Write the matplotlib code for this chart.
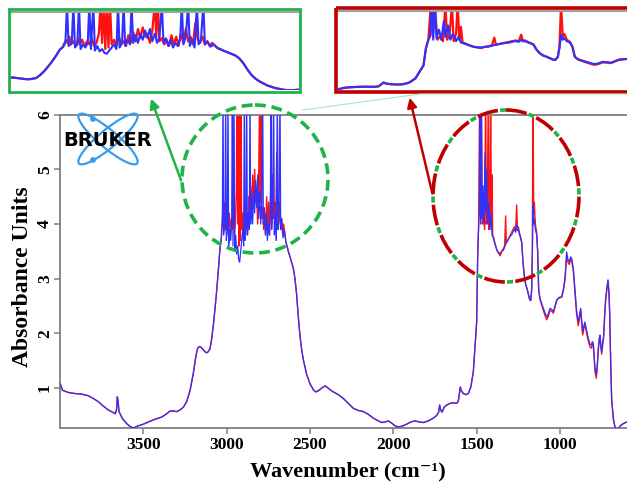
import matplotlib
matplotlib.use("Agg")
import matplotlib.pyplot as plt
from matplotlib.patches import Ellipse, Rectangle, Circle, FancyArrowPatch

# ---------------- data (wavenumber cm-1, absorbance) ----------------
wn_low = [4000, 3985, 3950, 3910, 3870, 3830, 3800, 3770, 3740, 3710, 3685, 3668, 3660,
          3656, 3652, 3646, 3625, 3600, 3580, 3560, 3530, 3500, 3470, 3430, 3390, 3360,
          3340, 3320, 3300, 3280, 3260, 3240, 3220, 3200, 3185, 3175, 3166, 3155, 3140,
          3125, 3115, 3100, 3090, 3080, 3070, 3060, 3050, 3040]
ab_low = [1.09, 0.96, 0.92, 0.90, 0.89, 0.86, 0.81, 0.75, 0.67, 0.60, 0.56, 0.53, 0.62,
          0.84, 0.78, 0.57, 0.44, 0.35, 0.30, 0.27, 0.31, 0.34, 0.38, 0.43, 0.47, 0.53,
          0.58, 0.58, 0.57, 0.60, 0.65, 0.75, 0.95, 1.27, 1.58, 1.72, 1.76, 1.75, 1.70,
          1.65, 1.65, 1.72, 1.90, 2.15, 2.45, 2.78, 3.15, 3.56]

wn_ch_red = [3032, 3030, 3024, 3020, 3016, 3012, 3006, 3000, 2994, 2990, 2984, 2978, 2972,
             2966, 2960, 2954, 2948, 2942, 2938, 2934, 2930, 2926, 2922, 2918, 2914, 2910,
             2904, 2898, 2892, 2886, 2880, 2874, 2868, 2862, 2856, 2850, 2844, 2838, 2832,
             2826, 2820, 2814, 2808, 2802, 2798, 2794, 2790, 2784, 2778, 2772, 2766, 2760,
             2754, 2748, 2742, 2736, 2730, 2724, 2718, 2712, 2706, 2700, 2694, 2688, 2682,
             2676, 2670, 2664, 2658, 2650, 2644, 2638, 2630]
ab_ch_red = [3.74, 3.90, 4.20, 4.00, 4.40, 3.90, 4.10, 3.80, 4.30, 3.90, 4.20, 3.80, 4.10,
             3.90, 4.30, 3.80, 4.00, 4.60, 6.50, 4.00, 6.50, 3.60, 6.50, 3.70, 6.50, 3.90,
             4.20, 3.80, 4.40, 3.90, 4.10, 3.80, 4.50, 4.00, 4.70, 4.10, 4.90, 4.30, 5.00,
             4.40, 4.60, 4.00, 4.80, 6.50, 4.40, 6.50, 4.10, 4.30, 3.90, 4.20, 3.80, 4.50,
             3.90, 4.40, 3.80, 4.60, 4.00, 4.90, 4.10, 4.40, 3.90, 5.30, 4.20, 4.00, 4.40,
             3.90, 4.10, 3.80, 4.00, 3.80, 3.65, 3.60, 3.50]

wn_ch_blue = [3032, 3026, 3022, 3018, 3010, 3006, 3002, 2996, 2992, 2988, 2982, 2976, 2970,
              2966, 2962, 2956, 2952, 2946, 2940, 2934, 2928, 2922, 2916, 2910, 2904, 2898,
              2894, 2890, 2884, 2880, 2876, 2870, 2864, 2860, 2856, 2850, 2844, 2838, 2832,
              2826, 2820, 2814, 2808, 2802, 2796, 2790, 2784, 2780, 2774, 2768, 2762, 2756,
              2750, 2744, 2738, 2734, 2730, 2724, 2718, 2714, 2708, 2702, 2696, 2692, 2686,
              2680, 2676, 2670, 2662, 2654, 2646, 2638, 2630]
ab_ch_blue = [3.74, 4.00, 6.50, 3.80, 4.00, 6.50, 3.70, 3.90, 6.50, 3.60, 3.90, 3.70, 4.00,
              6.50, 3.60, 6.50, 3.50, 3.80, 3.45, 3.60, 3.35, 3.30, 3.50, 3.70, 3.90, 3.60,
              6.50, 3.70, 4.00, 6.50, 3.80, 4.20, 3.90, 6.50, 4.00, 4.50, 4.00, 4.60, 4.20,
              4.80, 4.30, 4.90, 4.10, 4.60, 4.00, 4.40, 6.50, 4.00, 4.30, 3.80, 4.20, 3.70,
              4.00, 3.80, 4.30, 6.50, 3.90, 4.40, 6.50, 3.80, 4.20, 3.70, 6.50, 3.90, 4.20,
              6.50, 3.90, 4.10, 3.75, 3.90, 3.70, 3.60, 3.50]

wn_mid = [2620, 2600, 2590, 2580, 2570, 2560, 2550, 2540, 2520, 2500, 2480, 2465, 2450,
          2430, 2410, 2395, 2375, 2360, 2330, 2300, 2270, 2240, 2210, 2180, 2150, 2120,
          2090, 2070, 2050, 2030, 2010, 1990, 1970, 1950, 1920, 1895, 1870, 1845, 1820,
          1790, 1760, 1740, 1728, 1722, 1716, 1708, 1695, 1680, 1660, 1640, 1620, 1610,
          1598, 1592, 1580, 1565, 1550, 1535, 1520, 1510, 1500]
ab_mid = [3.40, 3.19, 3.00, 2.70, 2.30, 1.95, 1.70, 1.52, 1.25, 1.08, 0.97, 0.93, 0.95,
          1.00, 1.04, 1.01, 0.96, 0.93, 0.88, 0.81, 0.72, 0.63, 0.59, 0.57, 0.52, 0.45,
          0.40, 0.37, 0.38, 0.40, 0.36, 0.31, 0.29, 0.30, 0.34, 0.38, 0.40, 0.38, 0.37,
          0.40, 0.45, 0.50, 0.56, 0.69, 0.60, 0.56, 0.65, 0.69, 0.72, 0.73, 0.72, 0.76,
          1.02, 0.95, 0.90, 0.88, 0.90, 1.02, 1.30, 1.75, 2.21]

wn_fp_red = [1494, 1488, 1482, 1478, 1472, 1466, 1460, 1452, 1446, 1442, 1436, 1430, 1426,
             1420, 1416, 1412, 1408, 1404, 1398, 1390, 1382, 1374, 1366, 1358, 1350, 1340,
             1332, 1326, 1322, 1314, 1306, 1298, 1290, 1282, 1274, 1266, 1260, 1256, 1250,
             1244, 1236, 1230, 1222, 1214, 1206, 1198, 1190, 1182, 1176, 1170, 1166, 1162,
             1158, 1154, 1148, 1140, 1134, 1128]
ab_fp_red = [3.40, 4.00, 6.50, 4.30, 6.50, 4.00, 4.20, 3.90, 6.50, 4.00, 4.30, 6.50, 3.90,
             4.40, 6.50, 4.00, 4.90, 3.80, 3.75, 3.65, 3.55, 3.50, 3.45, 3.42, 3.50, 3.55,
             3.60, 4.15, 3.65, 3.70, 3.75, 3.80, 3.85, 3.90, 3.95, 3.90, 4.35, 3.95, 3.95,
             3.85, 3.75, 3.68, 3.30, 3.05, 2.90, 2.82, 2.72, 2.62, 2.60, 2.80, 3.50, 6.50,
             4.20, 4.40, 4.00, 3.85, 3.50, 2.80]

wn_fp_blue = [1494, 1488, 1484, 1480, 1476, 1472, 1468, 1462, 1456, 1450, 1446, 1440, 1434,
              1428, 1420, 1414, 1408, 1400, 1392, 1384, 1376, 1368, 1360, 1350, 1340, 1332,
              1324, 1314, 1306, 1298, 1290, 1282, 1274, 1266, 1260, 1256, 1250, 1244, 1236,
              1230, 1222, 1214, 1206, 1198, 1190, 1182, 1176, 1170, 1166, 1162, 1158, 1154,
              1148, 1140, 1134, 1128]
ab_fp_blue = [3.40, 4.00, 4.20, 6.50, 4.00, 6.50, 4.10, 4.70, 4.00, 5.30, 4.20, 5.00, 4.00,
              4.40, 3.90, 4.20, 3.80, 3.74, 3.65, 3.58, 3.50, 3.48, 3.46, 3.50, 3.52, 3.58,
              3.65, 3.70, 3.74, 3.78, 3.80, 3.86, 3.90, 3.85, 4.00, 3.88, 3.90, 3.82, 3.74,
              3.66, 3.30, 3.05, 2.90, 2.82, 2.72, 2.62, 2.60, 2.80, 3.40, 4.35, 4.00, 4.10,
              3.90, 3.80, 3.50, 2.80]

wn_tail = [1120, 1100, 1090, 1080, 1070, 1060, 1050, 1040, 1030, 1020, 1005, 990, 980, 970,
           960, 952, 944, 936, 930, 920, 910, 900, 890, 882, 876, 870, 864, 856, 850, 840,
           830, 820, 812, 806, 800, 794, 790, 782, 776, 770, 764, 760, 755, 750, 745, 738,
           732, 726, 718, 712, 706, 702, 696, 690, 680, 670, 660, 650, 640, 630, 620, 600]
ab_tail_blue = [2.64, 2.46, 2.38, 2.30, 2.36, 2.46, 2.44, 2.40, 2.50, 2.61, 2.66, 2.67, 2.80,
                3.01, 3.49, 3.35, 3.31, 3.40, 3.37, 3.19, 2.80, 2.40, 2.21, 2.35, 2.46, 2.25,
                2.03, 2.15, 2.21, 2.05, 1.91, 1.80, 1.79, 1.85, 1.82, 1.55, 1.36, 1.24, 1.45,
                1.75, 1.92, 1.97, 1.80, 1.66, 1.80, 1.97, 2.35, 2.64, 2.85, 2.98, 2.75, 2.40,
                1.50, 0.81, 0.45, 0.29, 0.26, 0.26, 0.30, 0.33, 0.35, 0.38]
ab_tail_red = [2.62, 2.42, 2.33, 2.25, 2.31, 2.42, 2.41, 2.37, 2.48, 2.60, 2.65, 2.66, 2.78,
               2.98, 3.42, 3.30, 3.26, 3.36, 3.33, 3.14, 2.75, 2.34, 2.14, 2.30, 2.42, 2.20,
               1.97, 2.10, 2.16, 2.00, 1.86, 1.75, 1.73, 1.80, 1.77, 1.50, 1.30, 1.18, 1.40,
               1.70, 1.88, 1.94, 1.76, 1.62, 1.76, 1.93, 2.31, 2.61, 2.83, 2.96, 2.72, 2.36,
               1.46, 0.78, 0.43, 0.28, 0.25, 0.26, 0.30, 0.33, 0.35, 0.38]

x_ticks = [3500, 3000, 2500, 2000, 1500, 1000]
y_ticks = [1, 2, 3, 4, 5, 6]

wn_red = wn_low + wn_ch_red + wn_mid + wn_fp_red + wn_tail
ab_red = ab_low + ab_ch_red + ab_mid + ab_fp_red + ab_tail_red
wn_blue = wn_low + wn_ch_blue + wn_mid + wn_fp_blue + wn_tail
ab_blue = ab_low + ab_ch_blue + ab_mid + ab_fp_blue + ab_tail_blue

RED = '#ff1010'
BLUE = '#3030ff'
GRAY = '#7f7f7f'
GREEN = '#1fb34a'
DRED = '#c00000'
SERIF = ['Liberation Serif', 'DejaVu Serif']

W, H = 627, 483
fig = plt.figure(figsize=(W / 100, H / 100), dpi=100)
fig.patch.set_facecolor('white')

def fax(x0, y0, x1, y1):
    return [x0 / W, 1 - y1 / H, (x1 - x0) / W, (y1 - y0) / H]

# ---------------- main axes ----------------
ax = fig.add_axes(fax(60, 114.7, 627, 428))
ax.plot(wn_red, ab_red, color=RED, lw=1.0, zorder=2)
ax.plot(wn_blue, ab_blue, color=BLUE, lw=0.9, zorder=3)
ax.set_xlim(4000, 598)
ax.set_ylim(0.27, 6.0)
ax.set_xticks(x_ticks)
ax.set_yticks(y_ticks)
ax.set_xticklabels([str(t) for t in x_ticks], fontsize=12.5, fontweight='bold', family=SERIF)
ax.set_yticklabels([str(t) for t in y_ticks], fontsize=12.5, fontweight='bold', family=SERIF,
                   rotation=90, va='center')
ax.tick_params(axis='both', direction='out', length=4, width=1.1, color=GRAY)
ax.tick_params(axis='x', pad=2.5)
ax.tick_params(axis='y', pad=1)
for s in ['left', 'top', 'bottom']:
    ax.spines[s].set_color(GRAY)
    ax.spines[s].set_linewidth(1.3)
ax.spines['right'].set_visible(False)

fig.text(348 / W, 1 - 476 / H, 'Wavenumber (cm\u207b\u00b9)', fontsize=16, fontweight='bold',
         family=SERIF, ha='center', va='baseline')
fig.text(23 / W, 1 - 277 / H, 'Absorbance Units', fontsize=17, fontweight='bold',
         family=SERIF, ha='center', va='center', rotation=90)

# ---------------- insets ----------------
def inset(rect, xlim, ylim):
    a = fig.add_axes(fax(*rect))
    a.plot(wn_red, ab_red, color=RED, lw=1.6)
    a.plot(wn_blue, ab_blue, color=BLUE, lw=1.5)
    a.set_xlim(*xlim)
    a.set_ylim(*ylim)
    a.set_xticks([])
    a.set_yticks([])
    for s in ['left', 'right', 'bottom']:
        a.spines[s].set_visible(False)
    a.spines['top'].set_color('#a0a0a0')
    a.spines['top'].set_linewidth(1.5)
    return a

inset((10, 12, 299, 90), (3165, 2440), (0.95, 6.0))
inset((338, 11, 627, 90), (1710, 1000), (0.5, 6.0))

# ---------------- overlay annotations ----------------
ov = fig.add_axes([0, 0, 1, 1], zorder=10)
ov.set_xlim(0, W)
ov.set_ylim(H, 0)
ov.axis('off')
ov.patch.set_alpha(0)

ov.add_patch(Rectangle((9, 9), 291, 83, fill=False, ec=GREEN, lw=2.0))
ov.add_patch(Rectangle((336, 8), 295, 84, fill=False, ec=DRED, lw=2.6))
ov.plot([303, 420, 627], [110, 94, 94], color='#a8e6b8', lw=0.8)

ov.add_patch(Ellipse((255, 179), 146, 148, fill=False, ec=GREEN, lw=2.6,
                     linestyle=(0, (3.0, 1.6))))
ov.add_patch(Ellipse((506, 196), 146, 172, fill=False, ec=DRED, lw=2.6,
                     linestyle=(0, (5.8, 2.9))))
ov.add_patch(Ellipse((506, 196), 146, 172, fill=False, ec=GREEN, lw=2.6,
                     linestyle=(2.3, (1.7, 7.0))))

ov.add_patch(FancyArrowPatch((182, 183), (150, 96), arrowstyle='-|>', mutation_scale=14,
                             color=GREEN, lw=1.8))
ov.add_patch(FancyArrowPatch((433, 196), (409, 95), arrowstyle='-|>', mutation_scale=14,
                             color=DRED, lw=1.8))

# Bruker logo
LOGO = '#3a9be8'
ov.add_patch(Ellipse((108, 139), 76, 18, angle=40, fill=False, ec=LOGO, lw=1.6))
ov.add_patch(Ellipse((108, 139), 76, 18, angle=-40, fill=False, ec=LOGO, lw=1.6))
ov.add_patch(Circle((93, 119), 2.2, color=LOGO))
ov.add_patch(Circle((93, 160), 2.2, color=LOGO))
ov.text(108, 140, 'BRUKER', fontsize=14, fontweight='heavy', family=['DejaVu Sans'],
        color='black', ha='center', va='center', zorder=5)

fig.savefig('out.png', dpi=100, facecolor='white')
